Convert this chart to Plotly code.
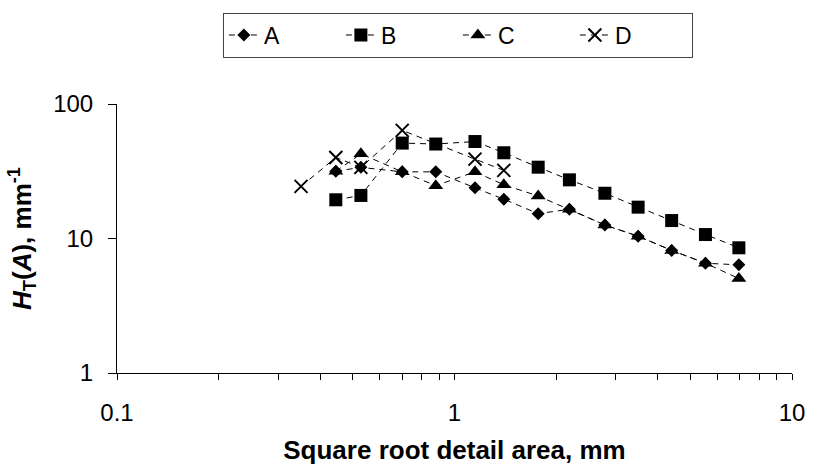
import plotly.graph_objects as go

# Data (square root detail area, mm  vs  H_T(A), mm^-1)
x_main = [0.445, 0.528, 0.70, 0.88, 1.15, 1.40, 1.77, 2.19, 2.79, 3.50, 4.40, 5.54, 6.96]
a_vals = [31.6, 33.8, 31.3, 31.3, 23.8, 19.6, 15.3, 16.5, 12.6, 10.4, 8.16, 6.55, 6.37]
b_vals = [19.4, 20.9, 51.2, 50.4, 52.6, 43.4, 33.9, 27.3, 21.7, 17.1, 13.6, 10.7, 8.53]
c_vals = [31.6, 42.6, 31.3, 24.7, 31.3, 25.1, 20.7, 16.5, 12.6, 10.4, 8.16, 6.55, 5.04]
x_d = [0.351, 0.445, 0.528, 0.70, 1.15, 1.40]
d_vals = [24.4, 40.0, 33.8, 63.7, 38.9, 32.1]

x_ticks = [0.1, 1, 10]
x_ticktext = ["0.1", "1", "10"]
x_minor = [0.2, 0.3, 0.4, 0.5, 0.6, 0.7, 0.8, 0.9, 2, 3, 4, 5, 6, 7, 8, 9]
y_ticks = [1, 10, 100]
y_ticktext = ["1", "10", "100"]

FONT = "Liberation Sans, Arial, sans-serif"
line_style = dict(color="black", width=1, dash="6px,5px")

fig = go.Figure()
fig.add_trace(go.Scatter(x=x_main, y=a_vals, name="A", mode="lines+markers",
                         line=line_style,
                         marker=dict(symbol="diamond", size=10, color="black")))
fig.add_trace(go.Scatter(x=x_main, y=b_vals, name="B", mode="lines+markers",
                         line=line_style,
                         marker=dict(symbol="square", size=13, color="black")))
fig.add_trace(go.Scatter(x=x_main, y=c_vals, name="C", mode="lines+markers",
                         line=line_style,
                         marker=dict(symbol="triangle-up", size=13, color="black")))
fig.add_trace(go.Scatter(x=x_d, y=d_vals, name="D", mode="lines+markers",
                         line=line_style,
                         marker=dict(symbol="x-thin", size=13, color="black",
                                     line=dict(color="black", width=2))))

fig.update_layout(
    width=817, height=472,
    margin=dict(l=117, r=14, t=94, b=98),
    paper_bgcolor="white", plot_bgcolor="white",
    font=dict(family=FONT, size=24, color="black"),
    showlegend=True,
    legend=dict(orientation="h", x=0.505, xanchor="center", y=1.34, yanchor="top",
                bordercolor="#444", borderwidth=1, bgcolor="white",
                font=dict(size=23), entrywidth=72, tracegroupgap=0),
    xaxis=dict(type="log", range=[-1, 1], showgrid=False, zeroline=False,
               showline=True, linecolor="black", linewidth=1,
               ticks="outside", ticklen=6, tickcolor="black",
               tickvals=x_ticks, ticktext=x_ticktext, ticklabelstandoff=12,
               minor=dict(tickvals=x_minor, ticks="outside", ticklen=6, tickcolor="black", showgrid=False),
               title=dict(text="<b>Square root detail area, mm</b>", standoff=16,
                          font=dict(size=26))),
    yaxis=dict(type="log", range=[0, 2], showgrid=False, zeroline=False,
               showline=True, linecolor="black", linewidth=1,
               ticks="outside", ticklen=8, tickcolor="black",
               tickvals=y_ticks, ticktext=y_ticktext, ticklabelstandoff=10,
               title=dict(text="<b><i>H</i><sub>T</sub>(<i>A</i>), mm<sup>-1</sup></b>", standoff=14,
                          font=dict(size=26))),
)

fig.write_html("out.html")
